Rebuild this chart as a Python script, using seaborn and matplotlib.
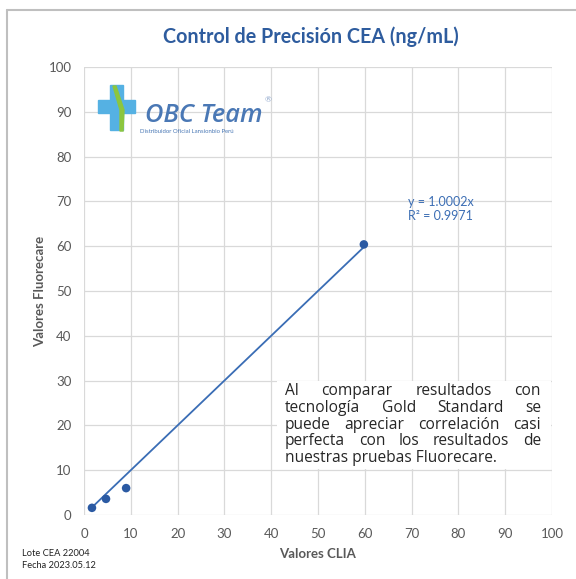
import matplotlib
matplotlib.use("Agg")
import matplotlib.pyplot as plt
import seaborn as sns
import pandas as pd
from matplotlib.patches import Rectangle, Polygon
from matplotlib.lines import Line2D

# datos
clia = [1.7, 4.7, 9.0, 59.8]
fluorecare = [1.6, 3.6, 6.0, 60.4]
slope = 1.0002
r2 = 0.9971
ticks = [0, 10, 20, 30, 40, 50, 60, 70, 80, 90, 100]

title = "Control de Precisión CEA (ng/mL)"
xlabel = "Valores CLIA"
ylabel = "Valores Fluorecare"
note_lines = [
    "Al comparar resultados con",
    "tecnología Gold Standard se",
    "puede apreciar correlación casi",
    "perfecta con los resultados de",
    "nuestras pruebas Fluorecare.",
]
footer = ["Lote CEA 22004", "Fecha 2023.05.12"]

W, H = 576, 579
GRAY = "#595959"
BLUE_T = "#2E5C9E"


def fx(px):
    return px / W


def fy(py):
    return 1 - py / H


sns.set_theme(style="whitegrid")
plt.rcParams["font.family"] = ["Lato", "DejaVu Sans"]

fig = plt.figure(figsize=(W / 100, H / 100), dpi=100)
ax = fig.add_axes([fx(84), fy(515), fx(552) - fx(84), fy(67) - fy(515)])

df = pd.DataFrame({"clia": clia, "fluo": fluorecare})
trend = pd.DataFrame({"x": [min(clia), max(clia)]})
trend["y"] = slope * trend["x"]

sns.lineplot(data=trend, x="x", y="y", ax=ax, color="#3A6DB5", lw=1.3, zorder=3)
sns.scatterplot(data=df, x="clia", y="fluo", ax=ax, color="#2B5AA3", s=38,
                edgecolor="none", zorder=4)

ax.set_xlim(0, 100)
ax.set_ylim(0, 100)
ax.set_xticks(ticks)
ax.set_yticks(ticks)
ax.grid(True, color="#D9D9D9", lw=0.9)
ax.set_facecolor("white")
for s in ax.spines.values():
    s.set_visible(False)
ax.tick_params(axis="both", colors=GRAY, labelsize=9.5, length=0, pad=9)
ax.set_xlabel(xlabel, fontsize=9.5, fontweight="bold", color=GRAY, labelpad=6)
ax.set_ylabel(ylabel, fontsize=9.5, fontweight="bold", color=GRAY, labelpad=2)

ax.text(69.2, 68.3, f"y = {slope:.4f}x\nR² = {r2:.4f}", color="#3C6EB4",
        fontsize=9, va="center", ha="left", linespacing=1.25)

# cuadro de texto
ax.add_patch(Rectangle((41.2, 10.3), 58.5, 19.5, facecolor="white",
                       edgecolor="none", zorder=2.5))

fig.text(fx(311), fy(37), title, ha="center", va="center", fontsize=14.2,
         fontweight="bold", color=BLUE_T)

# texto justificado
note_font = dict(fontsize=11.2, color="#262626", va="center", ha="left",
                 family=["Open Sans", "DejaVu Sans"], zorder=5)
renderer = fig.canvas.get_renderer()
left_px, right_px = 285, 541
y0, dy = 391, 16.8
for i, line in enumerate(note_lines):
    words = line.split()
    ypos = fy(y0 + i * dy)
    if i == len(note_lines) - 1:
        fig.text(fx(left_px), ypos, line, **note_font)
        continue
    objs = []
    widths = []
    for w in words:
        t = fig.text(0, ypos, w, **note_font)
        objs.append(t)
        widths.append(t.get_window_extent(renderer).width)
    gap = (right_px - left_px - sum(widths)) / (len(words) - 1)
    x = left_px
    for t, wd in zip(objs, widths):
        t.set_x(fx(x))
        x += wd + gap

# logo
blue_l = "#55B1E3"
green_l = "#8CC63F"
fig.patches.append(Rectangle((fx(110), fy(130)), fx(13), fy(85) - fy(130),
                             transform=fig.transFigure, color=blue_l))
fig.patches.append(Rectangle((fx(98), fy(113)), fx(37), fy(100) - fy(113),
                             transform=fig.transFigure, color=blue_l))
fig.patches.append(Polygon([(fx(113), fy(86)), (fx(116), fy(86)), (fx(124), fy(110)),
                            (fx(123), fy(131)), (fx(120), fy(131)), (fx(120), fy(110))],
                           closed=True, transform=fig.transFigure, color=green_l))
fig.text(fx(145), fy(122), "OBC Team", fontsize=18.3, fontstyle="italic",
         fontweight="semibold", color="#4A78B5", ha="left", va="baseline",
         family=["Open Sans", "DejaVu Sans"])
fig.text(fx(265), fy(100), "®", fontsize=6, color="#8FA7CC", ha="left", va="center")
fig.text(fx(140), fy(131), "Distribuidor Oficial Lansionbio Perú", fontsize=4.3,
         color="#4A78B5", ha="left", va="center")

# pie de pagina
fig.text(fx(22), fy(553), footer[0], fontsize=6.7, color="#222222", va="center")
fig.text(fx(22), fy(566), footer[1], fontsize=6.7, color="#222222", va="center")

# borde
fig.add_artist(Line2D([fx(7), 1], [fy(10), fy(10)], color="#BFBFBF", lw=1.5,
                      transform=fig.transFigure))
fig.add_artist(Line2D([fx(7), fx(7)], [fy(10), 0], color="#BFBFBF", lw=1.5,
                      transform=fig.transFigure))

fig.savefig("out.png", dpi=100)
